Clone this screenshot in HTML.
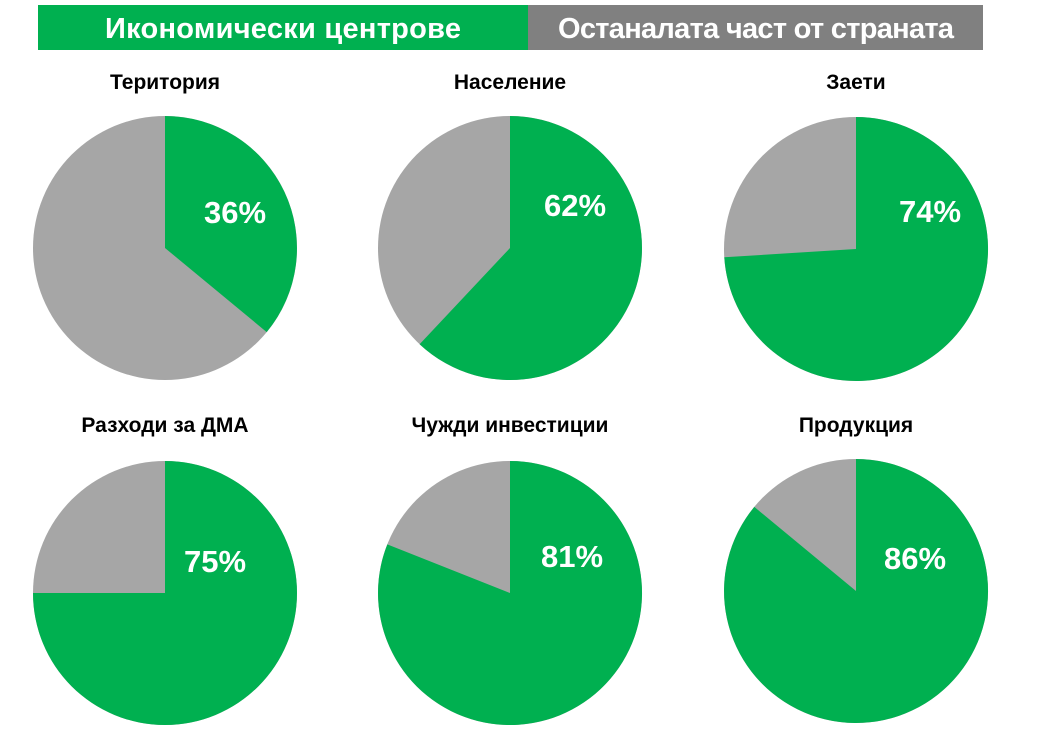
<!DOCTYPE html>
<html><head><meta charset="utf-8"><style>
body{margin:0;background:#fff;width:1037px;height:736px;overflow:hidden}
svg{display:block}
text{font-family:"Liberation Sans","DejaVu Sans",sans-serif;font-weight:bold}
</style></head><body>
<svg width="1037" height="736" viewBox="0 0 1037 736">
<rect x="38" y="5" width="490" height="45" fill="#00b050"/>
<rect x="528" y="5" width="455" height="45" fill="#808080"/>
<text x="283" y="38" font-size="29" fill="#fff" text-anchor="middle" textLength="356">Икономически центрове</text>
<text x="756" y="38" font-size="29" fill="#fff" text-anchor="middle" textLength="396">Останалата част от страната</text>

<g font-size="21" text-anchor="middle">
<text x="165" y="89">Територия</text>
<text x="510" y="89">Население</text>
<text x="856" y="89">Заети</text>
<text x="165" y="432">Разходи за ДМА</text>
<text x="510" y="432">Чужди инвестиции</text>
<text x="856" y="432">Продукция</text>
</g>

<g fill="#a6a6a6">
<circle cx="165" cy="248" r="132"/>
<circle cx="510" cy="248" r="132"/>
<circle cx="856" cy="249" r="132"/>
<circle cx="165" cy="593" r="132"/>
<circle cx="510" cy="593" r="132"/>
<circle cx="856" cy="591" r="132"/>
</g>
<g fill="#00b050">
<path d="M165 248 L165 116 A132 132 0 0 1 266.7 332.1 Z"/>
<path d="M510 248 L510 116 A132 132 0 1 1 419.6 344.2 Z"/>
<path d="M856 249 L856 117 A132 132 0 1 1 724.3 257.3 Z"/>
<path d="M165 593 L165 461 A132 132 0 1 1 33 593 Z"/>
<path d="M510 593 L510 461 A132 132 0 1 1 387.3 544.4 Z"/>
<path d="M856 591 L856 459 A132 132 0 1 1 754.3 506.9 Z"/>
</g>
<g fill="#fff" font-size="31" text-anchor="middle">
<text x="235" y="223">36%</text>
<text x="575" y="216">62%</text>
<text x="930" y="222">74%</text>
<text x="215" y="572">75%</text>
<text x="572" y="567">81%</text>
<text x="915" y="569">86%</text>
</g>
</svg>
</body></html>
